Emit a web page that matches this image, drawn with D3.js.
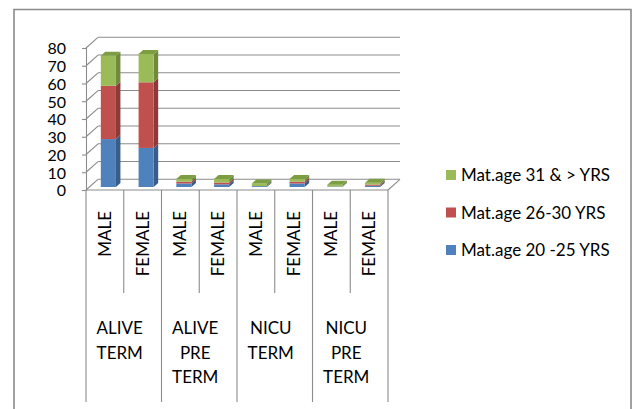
<!DOCTYPE html>
<html>
<head>
<meta charset="utf-8">
<script src="https://cdn.jsdelivr.net/npm/d3@7"></script>
<style>
  html, body { margin: 0; padding: 0; background: #fff; }
  svg { display: block; }
  text { font-family: Lato, "Noto Sans", sans-serif; fill: #000; }
</style>
</head>
<body>
<svg id="chart" width="633" height="409"></svg>
<script>
// Outcome groups and sexes along the category axis
const groups = [["ALIVE", "TERM"], ["ALIVE", "PRE", "TERM"], ["NICU", "TERM"], ["NICU", "PRE", "TERM"]];
const sexes = ["MALE", "FEMALE"];
const categories = ["ALIVE TERM|MALE", "ALIVE TERM|FEMALE", "ALIVE PRE TERM|MALE", "ALIVE PRE TERM|FEMALE",
                    "NICU TERM|MALE", "NICU TERM|FEMALE", "NICU PRE TERM|MALE", "NICU PRE TERM|FEMALE"];

// Stacked series (bottom to top)
const seriesNames = ["Mat.age 20 -25 YRS", "Mat.age 26-30 YRS", "Mat.age 31 & > YRS"];
const age20to25 = [27, 22, 2, 1.5, 0.5, 2, 0.3, 0.7];
const age26to30 = [30, 37, 1, 1, 0, 1, 0, 0.7];
const age31plus = [17, 16, 1.5, 2, 1.5, 1.5, 1, 1];

const yTicks = [0, 10, 20, 30, 40, 50, 60, 70, 80];

const svg = d3.select("#chart");

// Colours: front, side, top faces
const palette = [
  { front: "#4F81BD", side: "#385D8A", top: "#5B8BC6" },
  { front: "#C0504D", side: "#8C3B39", top: "#C96460" },
  { front: "#9BBB59", side: "#6F8A3C", top: "#7D9D42" }
];

// Outer chart frame
svg.append("path")
  .attr("d", "M14,420 L14,9.5 L631,9.5 L631,420")
  .attr("fill", "none").attr("stroke", "#8a8a8a").attr("stroke-width", 1.6);

// Plot geometry (front plane of the floor / axis)
const x0 = 86, x1 = 388;
const x = d3.scaleBand().domain(categories).range([x0, x1]);
const y = d3.scaleLinear().domain([0, 80]).range([190, 48]);
const wall = { dx: 12, dy: -10.7 };     // depth of the walls
const barOff = { dx: 3.5, dy: -3 };     // bars sit part-way into the depth
const barDepth = { dx: 4.5, dy: -4 };
const gridColor = "#8c8c8c";

const grid = svg.append("g").attr("fill", "none").attr("stroke", gridColor).attr("stroke-width", 1.1);

// Back wall gridlines and side wall diagonals
yTicks.forEach(v => {
  const yf = y(v);
  grid.append("line").attr("x1", x0 + wall.dx).attr("x2", x1 + wall.dx)
    .attr("y1", yf + wall.dy).attr("y2", yf + wall.dy);
  grid.append("line").attr("x1", x0).attr("y1", yf)
    .attr("x2", x0 + wall.dx).attr("y2", yf + wall.dy);
});
// Floor outline: right edge
grid.append("line").attr("x1", x1).attr("y1", y(0))
  .attr("x2", x1 + wall.dx).attr("y2", y(0) + wall.dy);

// Value axis
const yAxisG = svg.append("g").attr("transform", `translate(${x0},0)`)
  .call(d3.axisLeft(y).tickValues(yTicks).tickSize(4).tickPadding(5));
yAxisG.select(".domain").attr("stroke", gridColor).attr("stroke-width", 1.1);
yAxisG.selectAll(".tick line").attr("stroke", gridColor).attr("stroke-width", 1.1);
yAxisG.selectAll(".tick text").attr("font-size", 16).attr("font-family", "Lato, sans-serif")
  .attr("fill", "#000").attr("dy", "0.36em").attr("x", -20);

// Category axis line
svg.append("line").attr("x1", x0).attr("x2", x1).attr("y1", y(0)).attr("y2", y(0))
  .attr("stroke", gridColor).attr("stroke-width", 1.1);

// Stack the series
const rows = categories.map((c, i) => ({ cat: c, s0: age20to25[i], s1: age26to30[i], s2: age31plus[i] }));
const stacked = d3.stack().keys(["s0", "s1", "s2"])(rows);

const bw = x.bandwidth() * 0.4;
const bars = svg.append("g");
categories.forEach((c, i) => {
  const left = x(c) + x.bandwidth() / 2 - bw / 2 + barOff.dx;
  const segs = stacked.map((layer, k) => ({ k, lo: layer[i][0], hi: layer[i][1] })).filter(s => s.hi > s.lo);
  segs.forEach((s, j) => {
    const yt = y(s.hi) + barOff.dy, yb = y(s.lo) + barOff.dy;
    const col = palette[s.k];
    // side face
    bars.append("path")
      .attr("d", `M${left + bw},${yt} L${left + bw + barDepth.dx},${yt + barDepth.dy} L${left + bw + barDepth.dx},${yb + barDepth.dy} L${left + bw},${yb} Z`)
      .attr("fill", col.side);
    // front face
    bars.append("rect").attr("x", left).attr("y", yt).attr("width", bw).attr("height", yb - yt)
      .attr("fill", col.front);
    // top face on the uppermost segment
    if (j === segs.length - 1) {
      bars.append("path")
        .attr("d", `M${left},${yt} L${left + barDepth.dx},${yt + barDepth.dy} L${left + bw + barDepth.dx},${yt + barDepth.dy} L${left + bw},${yt} Z`)
        .attr("fill", col.top);
    }
  });
});

// Category labels: divider lines, rotated sex labels, group labels
const step = x.step();
const lab = svg.append("g");
categories.forEach((c, i) => {
  const xs = x(c);
  const isGroupStart = i % 2 === 0;
  lab.append("line").attr("x1", xs).attr("x2", xs).attr("y1", y(0)).attr("y2", isGroupStart ? 402 : 293)
    .attr("stroke", gridColor).attr("stroke-width", 1.1);
  const cx = xs + step / 2;
  lab.append("text")
    .attr("transform", `translate(${cx + 6},211) rotate(-90)`)
    .attr("text-anchor", "end").attr("font-size", 17)
    .text(sexes[i % 2]);
});
lab.append("line").attr("x1", x1).attr("x2", x1).attr("y1", y(0)).attr("y2", 402)
  .attr("stroke", gridColor).attr("stroke-width", 1.1);

groups.forEach((g, gi) => {
  const gx = x(categories[gi * 2]) + step - 4;
  const t = lab.append("text").attr("text-anchor", "middle").attr("font-size", 17);
  g.forEach((w, li) => {
    t.append("tspan").attr("x", gx).attr("y", 334 + li * 24.5).text(w);
  });
});

// Legend (top series first)
const legend = svg.append("g");
[2, 1, 0].forEach((k, r) => {
  const cy = 175 + r * 37.5;
  legend.append("rect").attr("x", 446).attr("y", cy - 5).attr("width", 10).attr("height", 10)
    .attr("fill", palette[k].front);
  legend.append("text").attr("x", 461).attr("y", cy + 6).attr("font-size", 17)
    .text(seriesNames[k]);
});
</script>
</body>
</html>
